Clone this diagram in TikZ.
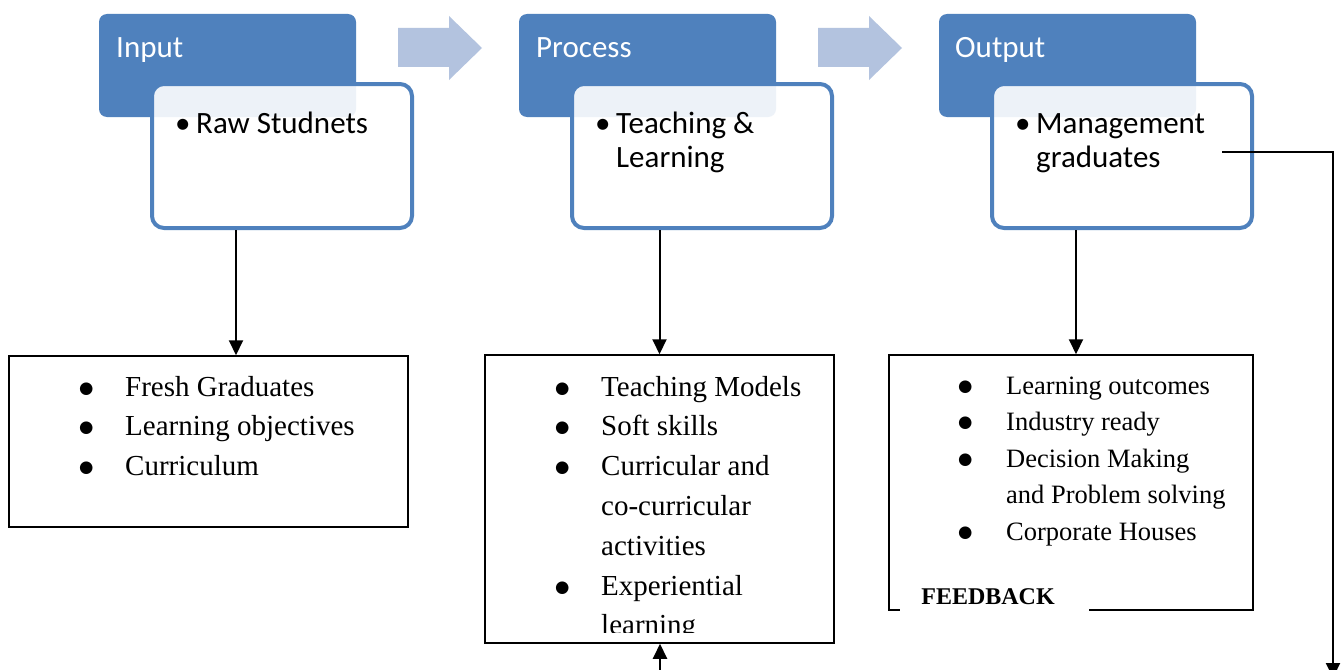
\documentclass[tikz,border=0pt]{standalone}
\usepackage{fontspec}
\setmainfont{Liberation Serif}
\newfontfamily\carlito{Carlito}
\newfontfamily\dejavu{DejaVu Sans}
\usetikzlibrary{arrows.meta}
\definecolor{dkblue}{HTML}{4F81BD}
\definecolor{ltarrow}{HTML}{B3C3DF}
\newcommand{\bigbul}{\raisebox{3pt}{\dejavu\fontsize{16.5}{16.5}\selectfont ●}}
\newcommand{\lbul}{\makebox[46pt][l]{\bigbul}}
\newcommand{\lind}{\hspace*{46pt}}
\newcommand{\obul}{\makebox[48pt][l]{\bigbul}}
\newcommand{\cbul}{\makebox[21pt][l]{\textbullet}}
\begin{document}
\begin{tikzpicture}[x=1pt,y=-1pt,
  hdr/.style={fill=dkblue, rounded corners=8pt, minimum width=257pt, minimum height=103pt, inner sep=0pt},
  sub/.style={draw=dkblue, line width=4pt, fill=white, fill opacity=0.9, rounded corners=12pt, minimum width=260pt, minimum height=144pt, inner sep=0pt},
  hdrtxt/.style={anchor=base west, inner sep=0pt, text=white, font=\carlito\fontsize{31}{34}\selectfont},
  subtxt/.style={anchor=base west, inner sep=0pt, text=black, font=\carlito\fontsize{31}{34}\selectfont},
  blockarrow/.style={fill=ltarrow, draw=none},
  listbox/.style={draw=black, line width=1.5pt, inner sep=0pt},
  listtxt/.style={anchor=base west, inner sep=0pt, font=\fontsize{29}{39.8}\selectfont},
  listtxts/.style={anchor=base west, inner sep=0pt, font=\fontsize{26.5}{36.5}\selectfont},
  conn/.style={draw=black, line width=2pt, -{Triangle[length=15pt,width=14pt]}},
  fblabel/.style={fill=white, inner xsep=0pt, inner ysep=8pt, minimum width=189pt, font=\bfseries\fontsize{24}{28}\selectfont}
]
\useasboundingbox (0,0) rectangle (1343,669);
\fill[white] (0,0) rectangle (1343,669);

% block arrows
\fill[blockarrow] (398,28) -- (449,28) -- (449,16) -- (482,48) -- (449,80) -- (449,67) -- (398,67) -- cycle;
\fill[blockarrow] (818,28) -- (869,28) -- (869,16) -- (902,48) -- (869,80) -- (869,67) -- (818,67) -- cycle;

% header boxes
\node[hdr] (hin) at (227.5,65.5) {};
\node[hdr] (hpr) at (647.5,65.5) {};
\node[hdr] (hout) at (1067.5,65.5) {};

% sub boxes
\node[sub] (lin) at (282,156) {};
\node[sub] (lpr) at (702,156) {};
\node[sub] (lout) at (1122,156) {};

% header texts
\node[hdrtxt] (tin) at (116,57) {Input};
\node[hdrtxt] (tpr) at (536,57) {Process};
\node[hdrtxt] (tout) at (955,57) {Output};

% sub texts
\node[subtxt] (sin) at (175,133) {\cbul Raw Studnets};
\node[subtxt] (spr) at (595,133) {\begin{tabular}[t]{@{}l@{}}\cbul Teaching \&\\ \hspace*{21pt}Learning\end{tabular}};
\node[subtxt] (sout) at (1015,133) {\begin{tabular}[t]{@{}l@{}}\cbul Management\\ \hspace*{21pt}graduates\end{tabular}};

% list boxes
\node[listbox, minimum width=399pt, minimum height=171pt] (ilist) at (208.5,441.5) {};
\node[listbox, minimum width=349pt, minimum height=288pt] (plist) at (659.5,499) {};
\node[listbox, minimum width=364pt, minimum height=255pt] (olist) at (1071,482.5) {};

% list texts
\node[listtxt] (itxt) at (79,396) {\begin{tabular}[t]{@{}l@{}}\lbul Fresh Graduates\\ \lbul Learning objectives\\ \lbul Curriculum\end{tabular}};
\begin{scope}
\clip (486,356) rectangle (834,632);
\node[listtxt] (ptxt) at (555,396) {\begin{tabular}[t]{@{}l@{}}\lbul Teaching Models\\ \lbul Soft skills\\ \lbul Curricular and\\ \lind co-curricular\\ \lind activities\\ \lbul Experiential\\ \lind learning\end{tabular}};
\end{scope}
\node[listtxts] (otxt) at (958,394) {\begin{tabular}[t]{@{}l@{}}\obul Learning outcomes\\ \obul Industry ready\\ \obul Decision Making\\ \hspace*{48pt}and Problem solving\\ \obul Corporate Houses\end{tabular}};

% feedback label breaking the border
\node[fblabel, anchor=base] (fb) at (994.5,604) {FEEDBACK\rule{13pt}{0pt}};

% connectors
\coordinate (ia) at (236,0);
\coordinate (oa) at (1076,0);
\draw[conn] (lin.south -| ia) -- (ilist.north -| ia);
\draw[conn] (lpr.south -| plist.north) -- (plist.north);
\draw[conn] (lout.south -| oa) -- (olist.north -| oa);

% feedback loop
\coordinate (fb1) at (1222,152);
\coordinate (fb2) at (1333,678);
\draw[conn] (fb1) -- (fb1 -| fb2) -- (fb2);
\coordinate (pb) at (660,680);
\draw[conn] (pb) -- (plist.south -| pb);
\end{tikzpicture}
\end{document}
